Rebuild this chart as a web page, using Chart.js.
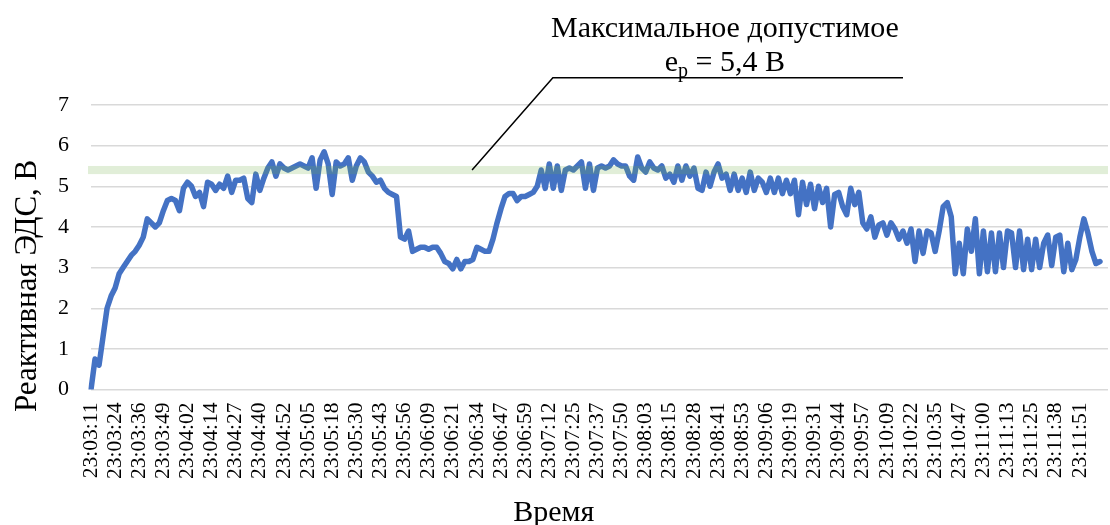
<!DOCTYPE html>
<html>
<head>
<meta charset="utf-8">
<script src="https://cdn.jsdelivr.net/npm/chart.js@4.4.1/dist/chart.umd.min.js"></script>
<style>
  html, body { margin: 0; padding: 0; background: #ffffff; }
  #wrap { width: 1110px; height: 525px; }
</style>
</head>
<body>
<div id="wrap"><canvas id="c" width="1110" height="525"></canvas></div>
<script>
// Tick labels shown on the time axis (every 6th sample)
const tickLabels = [
  '23:03:11','23:03:24','23:03:36','23:03:49','23:04:02','23:04:14','23:04:27','23:04:40',
  '23:04:52','23:05:05','23:05:18','23:05:30','23:05:43','23:05:56','23:06:09','23:06:21',
  '23:06:34','23:06:47','23:06:59','23:07:12','23:07:25','23:07:37','23:07:50','23:08:03',
  '23:08:15','23:08:28','23:08:41','23:08:53','23:09:06','23:09:19','23:09:31','23:09:44',
  '23:09:57','23:10:09','23:10:22','23:10:35','23:10:47','23:11:00','23:11:13','23:11:25',
  '23:11:38','23:11:51'
];
const samplesPerTick = 6;
const totalSlots = 254;

// Reactive EMF readings, V
const emfValues = [
  0, 0.75, 0.6, 1.3, 2.0, 2.3, 2.5, 2.85, 3.0, 3.15,
  3.3, 3.4, 3.55, 3.75, 4.2, 4.1, 4.0, 4.1, 4.4, 4.65,
  4.7, 4.65, 4.4, 4.95, 5.1, 5.0, 4.75, 4.85, 4.5, 5.1,
  5.05, 4.9, 5.05, 4.95, 5.25, 4.85, 5.15, 5.15, 5.2, 4.7,
  4.6, 5.3, 4.9, 5.2, 5.45, 5.6, 5.25, 5.55, 5.45, 5.4,
  5.45, 5.5, 5.55, 5.5, 5.45, 5.7, 4.95, 5.65, 5.85, 5.55,
  4.8, 5.6, 5.5, 5.55, 5.7, 5.15, 5.5, 5.7, 5.6, 5.35,
  5.25, 5.1, 5.15, 4.95, 4.85, 4.8, 4.75, 3.75, 3.7, 3.9,
  3.4, 3.45, 3.5, 3.5, 3.45, 3.5, 3.5, 3.35, 3.15, 3.1,
  2.97, 3.2, 2.97, 3.15, 3.15, 3.2, 3.5, 3.45, 3.4, 3.4,
  3.7, 4.1, 4.45, 4.75, 4.82, 4.82, 4.65, 4.75, 4.75, 4.8,
  4.85, 5.0, 5.4, 4.95, 5.55, 4.95, 5.5, 4.9, 5.4, 5.45,
  5.4, 5.5, 5.6, 4.95, 5.55, 4.9, 5.45, 5.5, 5.45, 5.5,
  5.65, 5.55, 5.5, 5.5, 5.25, 5.15, 5.72, 5.45, 5.35, 5.6,
  5.45, 5.4, 5.5, 5.2, 5.3, 5.1, 5.5, 5.15, 5.5, 5.25,
  5.45, 4.95, 4.9, 5.35, 5.0, 5.35, 5.55, 5.2, 5.3, 4.9,
  5.3, 4.9, 5.2, 4.85, 5.35, 4.9, 5.2, 5.1, 4.85, 5.2,
  4.85, 5.2, 4.82, 5.15, 4.82, 5.15, 4.3, 5.1, 4.55, 5.05,
  4.45, 5.0, 4.6, 4.95, 4.0, 4.8, 4.85, 4.5, 4.3, 4.95,
  4.55, 4.85, 4.1, 3.95, 4.25, 3.75, 4.05, 4.1, 3.8, 4.1,
  3.95, 3.7, 3.9, 3.6, 3.95, 3.15, 3.9, 3.35, 3.9, 3.85,
  3.4, 3.9, 4.5, 4.6, 4.25, 2.85, 3.6, 2.85, 3.95, 3.4,
  4.2, 2.85, 3.9, 2.9, 3.85, 2.9, 3.85, 3.0, 3.9, 3.85,
  3.0, 3.9, 2.95, 3.7, 2.95, 3.7, 3.0, 3.6, 3.8, 3.05,
  3.75, 3.8, 2.9, 3.6, 2.95, 3.2, 3.75, 4.2, 3.85, 3.4,
  3.1, 3.15
];

// Permissible maximum band and callout (data units)
const bandLow = 5.3;
const bandHigh = 5.5;
const calloutTarget = { x: 94.8, y: 5.4 };
const calloutElbow = { x: 114.9, y: 7.67 };
const calloutEndX = 202;
const noteCenterX = 157.7;
const noteLine1Y = 8.68;
const noteLine2Y = 7.83;
const noteLine1 = 'Максимальное допустимое';

const yTitle = 'Реактивная ЭДС, В';
const xTitle = 'Время';

const slotLabels = [];
for (let i = 0; i < totalSlots; i++) {
  const k = i / samplesPerTick;
  slotLabels.push(Number.isInteger(k) && k < tickLabels.length ? tickLabels[k] : '');
}

const FONT = "'Liberation Serif', 'Times New Roman', serif";

const overlayPlugin = {
  id: 'overlay',
  afterDatasetsDraw(chart) {
    const { ctx, chartArea, scales } = chart;
    const y = scales.y;
    ctx.save();
    const yTop = y.getPixelForValue(bandHigh);
    const yBot = y.getPixelForValue(bandLow);
    ctx.fillStyle = 'rgba(112,173,71,0.21)';
    ctx.fillRect(chartArea.left - 3, yTop, chartArea.right - chartArea.left + 3, yBot - yTop);
    ctx.restore();
  },
  afterDraw(chart) {
    const { ctx, scales, chartArea } = chart;
    const y = scales.y, x = scales.x;
    ctx.save();
    // callout leader
    ctx.strokeStyle = '#000000';
    ctx.lineWidth = 1.5;
    ctx.beginPath();
    ctx.moveTo(x.getPixelForValue(calloutTarget.x), y.getPixelForValue(calloutTarget.y));
    ctx.lineTo(x.getPixelForValue(calloutElbow.x), y.getPixelForValue(calloutElbow.y));
    ctx.lineTo(x.getPixelForValue(calloutEndX), y.getPixelForValue(calloutElbow.y));
    ctx.stroke();

    // note text
    const cx = x.getPixelForValue(noteCenterX);
    ctx.fillStyle = '#000000';
    ctx.textBaseline = 'alphabetic';
    ctx.textAlign = 'center';
    ctx.font = '30px ' + FONT;
    ctx.fillText(noteLine1, cx, y.getPixelForValue(noteLine1Y));

    const big = '30px ' + FONT, small = '20px ' + FONT;
    ctx.textAlign = 'left';
    ctx.font = big; const wE = ctx.measureText('e').width;
    ctx.font = small; const wP = ctx.measureText('p').width;
    ctx.font = big; const wRest = ctx.measureText(' = 5,4 В').width;
    const total = wE + wP + wRest;
    let sx = cx - total / 2;
    const by = y.getPixelForValue(noteLine2Y);
    ctx.font = big; ctx.fillText('e', sx, by); sx += wE;
    ctx.font = small; ctx.fillText('p', sx, by + 6); sx += wP;
    ctx.font = big; ctx.fillText(' = 5,4 В', sx, by);

    // axis titles
    ctx.textAlign = 'center';
    ctx.font = '30px ' + FONT;
    ctx.fillText(xTitle, chartArea.left + (chartArea.right - chartArea.left) * 0.455, 521);
    ctx.save();
    ctx.translate(36, y.getPixelForValue(2.55));
    ctx.rotate(-Math.PI / 2);
    ctx.font = '31px ' + FONT;
    ctx.fillText(yTitle, 0, 0);
    ctx.restore();
    ctx.restore();
  }
};

new Chart(document.getElementById('c'), {
  type: 'line',
  data: {
    labels: slotLabels,
    datasets: [{
      data: emfValues,
      borderColor: '#4472C4',
      borderWidth: 5.5,
      pointRadius: 0,
      tension: 0,
      borderJoinStyle: 'round',
      borderCapStyle: 'round',
      fill: false
    }]
  },
  options: {
    responsive: false,
    animation: false,
    devicePixelRatio: 1,
    layout: { padding: { top: 105, left: 0, right: 2, bottom: 33 } },
    plugins: { legend: { display: false }, tooltip: { enabled: false } },
    scales: {
      x: {
        type: 'category',
        offset: false,
        grid: { display: false, drawTicks: false },
        border: { display: false },
        afterFit(scale) { scale.paddingLeft = 0; scale.paddingRight = 0; },
        ticks: {
          autoSkip: false,
          minRotation: 90,
          maxRotation: 90,
          padding: 13,
          color: '#000000',
          font: { family: FONT, size: 21.5 }
        },
        title: { display: false }
      },
      y: {
        min: 0,
        max: 7,
        afterFit(scale) { scale.width = 91; },
        ticks: {
          stepSize: 1,
          padding: 22,
          color: '#000000',
          font: { family: FONT, size: 22 }
        },
        grid: { color: '#D9D9D9', lineWidth: 1.5, drawTicks: false },
        border: { display: false },
        title: { display: false }
      }
    }
  },
  plugins: [overlayPlugin]
});
</script>
</body>
</html>
